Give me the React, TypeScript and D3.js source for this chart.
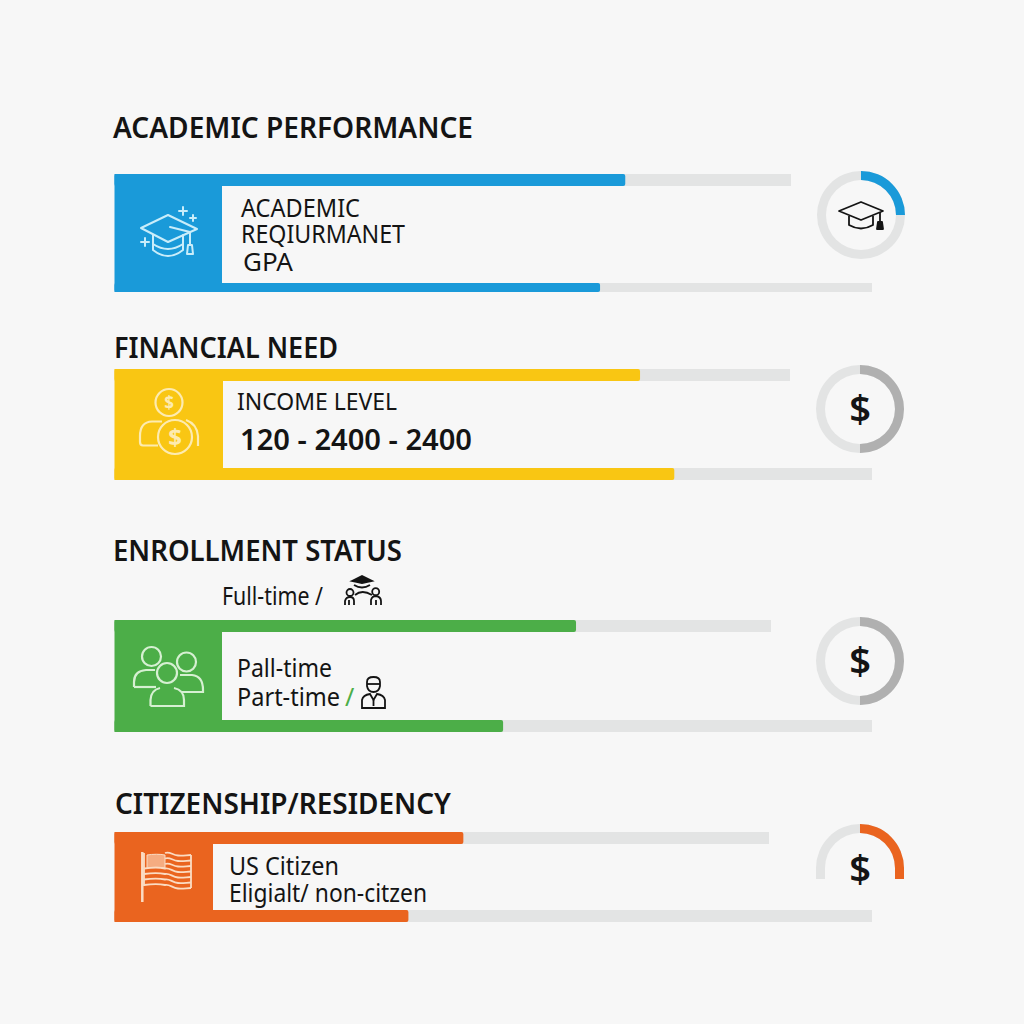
import * as d3 from 'd3';

// values (percent of each track)
const sectionTitles = ['ACADEMIC PERFORMANCE', 'FINANCIAL NEED', 'ENROLLMENT STATUS', 'CITIZENSHIP/RESIDENCY'];
const topValues = [75.5, 77.8, 70.3, 53.3];
const bottomValues = [64.1, 73.9, 51.3, 38.8];
const gaugeValues = [25, 50, 50, 25];
const gaugeTrackFrom = [0, 0, 0, -25];
const gaugeTrackTo = [100, 100, 100, 25];
const gaugeSymbols = ['', '$', '$', '$'];

// layout
const width = 1024;
const blockLeft = 114.5;
const bottomTrackEnd = 872;
const bandTop = [174, 369, 620, 832];
const bandBottom = [292, 480, 732, 922];
const innerLeft = [222, 223, 222, 213];
const topTrackEnd = [791, 790, 771, 769];
const bottomBarH = [9, 12, 12, 12];
const titleX = [113, 114, 113, 115];
const titleY = [138, 358, 561, 814];
const titleEnd = [473, 338, 402, 451];
const ringCx = [861, 860, 860, 860];
const ringCy = [215, 409, 661, 868];
const colors = ['#1a9ad9', '#f9c613', '#4cae48', '#ea641f'];
const ringColors = ['#1a9ad9', '#b0b0b0', '#b0b0b0', '#ea641f'];
const trackColor = '#e3e4e4';
const bg = '#f7f7f7';
const ink = '#141414';
const font = '"Noto Sans", sans-serif';

const labels = [
	{ t: 'ACADEMIC', x: 241, y: 217, end: 360, s: 24.5 },
	{ t: 'REQIURMANET', x: 241, y: 243, end: 405, s: 24.5 },
	{ t: 'GPA', x: 243, y: 271, end: 293, s: 25 },
	{ t: 'INCOME LEVEL', x: 237, y: 410, end: 397, s: 23.5 },
	{ t: '120 - 2400 - 2400', x: 240, y: 450, end: 472, s: 28, w: 600 },
	{ t: 'Full-time /', x: 222, y: 605, end: 323, s: 25 },
	{ t: 'Pall-time', x: 237, y: 677, end: 332, s: 25 },
	{ t: 'Part-time', x: 237, y: 706, end: 340, s: 25 },
	{ t: 'US Citizen', x: 229, y: 875, end: 339, s: 25 },
	{ t: 'Eligialt/ non-citzen', x: 229, y: 902, end: 427, s: 25 },
];

const flagStripes = [853, 858.500, 864, 869.500, 875, 880.500, 886];

const ringArc = d3.arc<{ a: number; b: number }>()
	.innerRadius(35)
	.outerRadius(44)
	.startAngle((d) => d.a)
	.endAngle((d) => d.b);
const turn = d3.scaleLinear().domain([0, 100]).range([0, 2 * Math.PI]);

function Sparkle({ x, y, r }: { x: number; y: number; r: number }) {
	return <path d={`M${x - r},${y}H${x + r}M${x},${y - r}V${y + r}`} />;
}

function CapIcon() {
	return (
		<g fill="none" stroke="#c9edfa" strokeWidth={2} strokeLinejoin="round" strokeLinecap="round">
			<path d="M141,228L168,215L197,229L168,242Z" />
			<path d="M153,235V250Q168,262 183,250V235" />
			<path d="M153,244Q168,254 183,244" />
			<path d="M170,227L190,232V245" />
			<path d="M188,245H192L193,254H187Z" />
			<Sparkle x={183} y={211} r={4} />
			<Sparkle x={193} y={218} r={3} />
			<Sparkle x={145} y={242} r={4} />
		</g>
	);
}

function CoinIcon() {
	const c = '#fdebb0';
	return (
		<g fill="none" stroke={c} strokeWidth={2.2}>
			<circle cx={169} cy={402.500} r={13.500} />
			<circle cx={175} cy={437} r={17} />
			<path d="M158,445.500H143Q140,445.500 140,442V436Q140,422 152,421.500H162" />
			<path d="M186,420Q197,424 198,436V446" />
			<text x={169} y={408.500} textAnchor="middle" fontFamily={font} fontSize={17} fontWeight={700} fill={c} stroke="none">$</text>
			<text x={175} y={445.500} textAnchor="middle" fontFamily={font} fontSize={24} fontWeight={700} fill={c} stroke="none">$</text>
		</g>
	);
}

function GroupIcon() {
	return (
		<g fill="none" stroke="#d6f0d2" strokeWidth={2.2}>
			<circle cx={151.500} cy={656.500} r={9.500} />
			<circle cx={186.500} cy={662} r={9.500} />
			<circle cx={167} cy={673} r={10} />
			<path d="M134,687V682Q134,671 146,670H155" />
			<path d="M134,687H156" />
			<path d="M180,675H192Q203,676 203,690V692H182" />
			<path d="M150.500,706V700Q151,690 160,688M174,688Q184,690 184,700V706H150.500" />
		</g>
	);
}

function FlagIcon() {
	const c = '#fbdcc3';
	const wave = (x0: number, y: number) =>
		`M${x0},${y + (x0 > 150 ? 0 : -1)}C170,${y - 2} 172,${y + 2} 178,${y + 2.5}C183,${y + 3} 187,${y + 2} 191,${y + 2}`;
	return (
		<g fill="none" stroke={c}>
			<path d="M142.300,852V902" strokeWidth={2.500} />
			{flagStripes.map((y, i) => (
				<path key={y} d={i < 3 ? wave(165, y) : `M144,${y - 1}C152,${y - 2} 160,${y - 2} 165,${y - 1}` + wave(165, y).replace(/^M[^C]*/, '')} strokeWidth={1.800} />
			))}
			<path d="M144,853V886M191,855V888" strokeWidth={1.800} />
			<path d="M147,855C153,854 160,854 165,855V868C160,867 153,867 147,868Z" fill={c} fillOpacity={0.6} strokeWidth={1} />
		</g>
	);
}

function SmallCap() {
	return (
		<g fill="none" stroke={ink} strokeWidth={1.800} strokeLinejoin="round">
			<path d="M839,211L861,202L883,211L861,220Z" />
			<path d="M849,216V225Q861,232 873,225V216" />
			<path d="M880,212V222" />
			<path d="M878,222H882L883,229H877Z" fill={ink} />
		</g>
	);
}

function CapPeople() {
	return (
		<g fill="none" stroke={ink} strokeWidth={1.800}>
			<path d="M352,581L362,576L372,581L362,583Z" fill={ink} />
			<path d="M354,585Q362,590 370,585" />
			<path d="M355,595Q362,589 372,595" />
			<circle cx={350} cy={592.500} r={3.500} />
			<circle cx={375.700} cy={591.700} r={3.500} />
			<path d="M345,605V601Q346,597 350,597Q354,597 354,601V605M349,605V600" />
			<path d="M371,605V600Q372,596 376,596Q381,597 381,601V605M376,605V600" />
		</g>
	);
}

function PersonIcon() {
	return (
		<g fill="none" stroke={ink} strokeWidth={1.800}>
			<path d="M367,682Q367,677 373.500,677Q380,677 380,682V686Q379,692 373.500,692Q368,692 367,686Z" />
			<path d="M367,684H380" />
			<path d="M362,708V700Q363,695 370,694L373.500,700L377,694Q384,695 385,700V708Z" />
			<path d="M373.500,700V706" />
		</g>
	);
}

export default function App() {
	return (
		<svg
			width={width}
			height={width}
			viewBox={`0 0 ${width} ${width}`}
			style={{ position: 'absolute', left: 0, top: 0, display: 'block' }}
		>
			<rect width={width} height={width} fill={bg} />

			{sectionTitles.map((title, i) => {
				const topX = d3.scaleLinear().domain([0, 100]).range([blockLeft, topTrackEnd[i]]);
				const bottomX = d3.scaleLinear().domain([0, 100]).range([blockLeft, bottomTrackEnd]);
				const barY = bandBottom[i] - bottomBarH[i];
				return (
					<g key={title}>
						<text
							x={titleX[i]}
							y={titleY[i]}
							fontFamily={font}
							fontSize={29}
							fontWeight={600}
							fill={ink}
							textLength={titleEnd[i] - titleX[i]}
							lengthAdjust="spacingAndGlyphs"
						>
							{title}
						</text>
						{/* tracks */}
						<rect x={blockLeft} y={bandTop[i]} width={topTrackEnd[i] - blockLeft} height={12} fill={trackColor} />
						<rect x={blockLeft} y={barY} width={bottomTrackEnd - blockLeft} height={bottomBarH[i]} fill={trackColor} />
						{/* colored block and bars */}
						<rect x={blockLeft} y={bandTop[i]} width={innerLeft[i] - blockLeft} height={bandBottom[i] - bandTop[i]} fill={colors[i]} />
						<rect x={blockLeft} y={bandTop[i]} width={topX(topValues[i]) - blockLeft} height={12} rx={2} fill={colors[i]} />
						<rect x={blockLeft} y={barY} width={bottomX(bottomValues[i]) - blockLeft} height={bottomBarH[i]} rx={2} fill={colors[i]} />
						{/* ring */}
						<g transform={`translate(${ringCx[i]},${ringCy[i]})`}>
							<path d={ringArc({ a: turn(gaugeTrackFrom[i]), b: turn(gaugeTrackTo[i]) })!} fill={trackColor} />
							<path d={ringArc({ a: 0, b: turn(gaugeValues[i]) })!} fill={ringColors[i]} />
							{i === 3 && (
								<>
									<rect x={-44} y={-0.500} width={9} height={11.500} fill={trackColor} />
									<rect x={35} y={-0.500} width={9} height={11.500} fill={ringColors[i]} />
								</>
							)}
							{gaugeSymbols[i] && (
								<text
									y={i === 3 ? 15 : 14}
									textAnchor="middle"
									fontFamily={font}
									fontSize={38}
									fontWeight={600}
									fill={ink}
								>
									{gaugeSymbols[i]}
								</text>
							)}
						</g>
					</g>
				);
			})}

			{labels.map((l) => (
				<text
					key={l.t}
					x={l.x}
					y={l.y}
					fontFamily={font}
					fontSize={l.s}
					fontWeight={l.w ?? 400}
					fill={ink}
					textLength={l.end - l.x}
					lengthAdjust="spacingAndGlyphs"
				>
					{l.t}
				</text>
			))}
			<text x={345} y={706} fontFamily={font} fontSize={25} fill={colors[2]}>/</text>

			<CapIcon />
			<CoinIcon />
			<GroupIcon />
			<FlagIcon />
			<SmallCap />
			<CapPeople />
			<PersonIcon />
		</svg>
	);
}
